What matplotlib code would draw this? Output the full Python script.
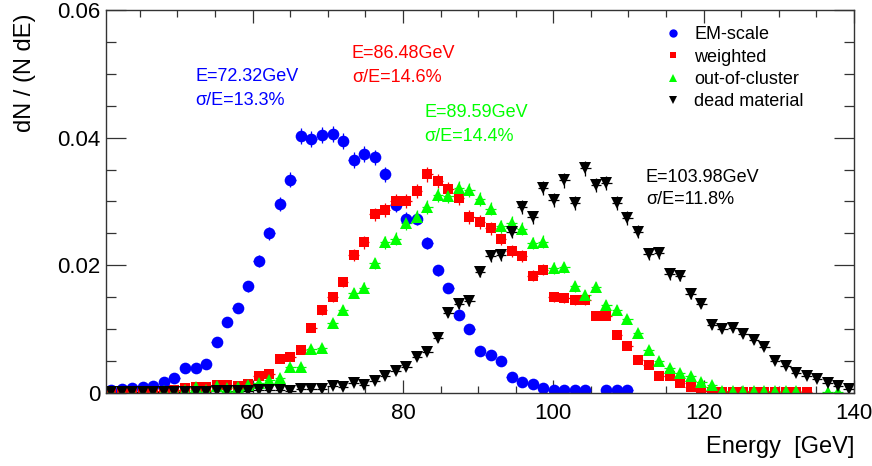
import numpy as np
import matplotlib
matplotlib.use("Agg")
import matplotlib.pyplot as plt
from matplotlib.lines import Line2D
from matplotlib.ticker import MultipleLocator, FixedLocator, FixedFormatter

plt.rcParams['font.family'] = ['Liberation Sans', 'DejaVu Sans']

nan = np.nan

# histogram binning: 71 bins between 40.5 and 140 GeV
bin_edges = np.linspace(40.5, 140.0, 72)
energy = 0.5 * (bin_edges[:-1] + bin_edges[1:])
half_width = 0.5 * (bin_edges[1] - bin_edges[0])

em_scale = [0.0005, 0.0007, 0.0008, 0.0010, 0.0011, 0.0017, 0.0023, 0.0039, 0.0039, 0.0046,
            0.0080, 0.0112, 0.0133, 0.0167, 0.0207, 0.0250, 0.0296, 0.0334, 0.0403, 0.0398,
            0.0404, 0.0406, 0.0395, 0.0365, 0.0374, 0.0369, 0.0343, 0.0295, 0.0273, 0.0273,
            0.0235, 0.0192, 0.0164, 0.0122, 0.0100, 0.0066, 0.0059, 0.0050, 0.0025, 0.0017,
            0.0014, 0.0008, 0.0005, 0.0005, 0.0004, 0.0004, nan, 0.0004, 0.0004, 0.0004,
            nan, nan, nan, nan, nan, nan, nan, nan, nan, nan,
            nan, nan, nan, nan, nan, nan, nan, nan, nan, nan, nan]

weighted = [0.0001, 0.0002, 0.0002, 0.0002, 0.0003, 0.0003, 0.0004, 0.0008, 0.0010, 0.0010,
            0.0013, 0.0013, 0.0011, 0.0014, 0.0026, 0.0030, 0.0053, 0.0056, 0.0067, 0.0102,
            0.0130, 0.0151, 0.0174, 0.0216, 0.0236, 0.0280, 0.0287, 0.0301, 0.0301, 0.0316,
            0.0343, 0.0332, 0.0320, 0.0305, 0.0276, 0.0268, 0.0258, 0.0241, 0.0223, 0.0214,
            0.0184, 0.0193, 0.0150, 0.0149, 0.0145, 0.0145, 0.0121, 0.0121, 0.0091, 0.0073,
            0.0052, 0.0044, 0.0027, 0.0026, 0.0015, 0.0010, 0.0003, 0.0002, 0.0002, 0.0002,
            0.0002, 0.0002, 0.0002, 0.0002, 0.0002, 0.0002, 0.0002, nan, nan, nan, nan]

out_of_cluster = [0.0001, 0.0001, 0.0001, 0.0002, 0.0002, 0.0003, 0.0003, 0.0004, 0.0010, 0.0005,
                  0.0011, 0.0008, 0.0009, 0.0012, 0.0015, 0.0020, 0.0023, 0.0040, 0.0041, 0.0069,
                  0.0071, 0.0109, 0.0130, 0.0156, 0.0165, 0.0203, 0.0236, 0.0242, 0.0266, 0.0276,
                  0.0291, 0.0310, 0.0308, 0.0321, 0.0318, 0.0304, 0.0289, 0.0261, 0.0267, 0.0257,
                  0.0235, 0.0237, 0.0196, 0.0197, 0.0167, 0.0154, 0.0166, 0.0138, 0.0130, 0.0116,
                  0.0094, 0.0068, 0.0050, 0.0039, 0.0031, 0.0026, 0.0017, 0.0013, 0.0003, 0.0003,
                  0.0003, 0.0003, 0.0003, 0.0003, 0.0003, 0.0003, nan, nan, 0.0002, 0.0002, nan]

dead_material = [0.0002, 0.0002, 0.0002, 0.0002, 0.0002, 0.0002, 0.0002, 0.0002, 0.0002, 0.0002,
                 0.0003, 0.0003, 0.0003, 0.0003, 0.0004, 0.0004, 0.0004, 0.0003, 0.0007, 0.0007,
                 0.0007, 0.0011, 0.0010, 0.0015, 0.0013, 0.0019, 0.0026, 0.0034, 0.0040, 0.0057,
                 0.0064, 0.0086, 0.0126, 0.0139, 0.0144, 0.0190, 0.0214, 0.0216, 0.0253, 0.0291,
                 0.0275, 0.0321, 0.0303, 0.0333, 0.0298, 0.0352, 0.0326, 0.0329, 0.0297, 0.0274,
                 0.0253, 0.0217, 0.0219, 0.0186, 0.0184, 0.0155, 0.0140, 0.0107, 0.0101, 0.0102,
                 0.0092, 0.0083, 0.0072, 0.0050, 0.0042, 0.0031, 0.0026, 0.0022, 0.0016, 0.0011,
                 0.0006]

# normalisation N*dE, used for the poisson error bars
n_norm = 25000.0

series = [
    ("EM-scale", em_scale, "#0000ff", "o", 8.4, 6.0),
    ("weighted", weighted, "#ff0000", "s", 7.6, 4.8),
    ("out-of-cluster", out_of_cluster, "#00ff00", "^", 8.6, 5.6),
    ("dead material", dead_material, "#000000", "v", 8.6, 5.6),
]

fits = [
    ("E=72.32GeV", "\u03c3/E=13.3%", "#0000ff", 52.4, 0.0496, 0.0458),
    ("E=86.48GeV", "\u03c3/E=14.6%", "#ff0000", 73.2, 0.0532, 0.0495),
    ("E=89.59GeV", "\u03c3/E=14.4%", "#00ff00", 82.9, 0.0439, 0.0402),
    ("E=103.98GeV", "\u03c3/E=11.8%", "#000000", 112.3, 0.0338, 0.0303),
]

fig = plt.figure(figsize=(8.72, 4.66), dpi=100)
ax = fig.add_axes([106 / 872, 1 - 393 / 466, 748 / 872, 383 / 466])

handles = []
for label, vals, col, mk, ms, ms_leg in series:
    y = np.array(vals)
    err = np.sqrt(np.nan_to_num(y) / n_norm)
    ax.errorbar(energy, y, yerr=err, xerr=half_width, fmt=mk, color=col, ms=ms,
                mew=0, elinewidth=0.9, capsize=0)
    handles.append(Line2D([], [], ls="none", marker=mk, color=col, ms=ms_leg, mew=0))

for line1, line2, col, xt, y1, y2 in fits:
    ax.text(xt, y1, line1, color=col, fontsize=13, va="center", ha="left")
    ax.text(xt, y2, line2, color=col, fontsize=13, va="center", ha="left")

ax.legend(handles, [s[0] for s in series], loc="upper left", bbox_to_anchor=(0.724, 1.0),
          frameon=False, fontsize=13, handlelength=1.0, handletextpad=0.7,
          labelspacing=0.3, borderpad=0.4)

ax.set_xlim(40.5, 140)
ax.set_ylim(0, 0.06)

ax.xaxis.set_major_locator(MultipleLocator(20))
ax.xaxis.set_minor_locator(MultipleLocator(5))
ax.yaxis.set_major_locator(FixedLocator([0, 0.02, 0.04, 0.06]))
ax.yaxis.set_major_formatter(FixedFormatter(["0", "0.02", "0.04", "0.06"]))
ax.yaxis.set_minor_locator(MultipleLocator(0.005))

ax.tick_params(axis="both", which="both", direction="in", top=True, right=True,
               labelsize=16, width=0.9, color="#333333")
ax.tick_params(axis="x", which="major", length=9.5, pad=7)
ax.tick_params(axis="x", which="minor", length=5)
ax.tick_params(axis="y", which="major", length=14.5, pad=4)
ax.tick_params(axis="y", which="minor", length=7.5)

for sp in ax.spines.values():
    sp.set_linewidth(1.0)
    sp.set_color("#333333")

ax.set_xlabel("Energy  [GeV]", fontsize=17, loc="right")
ax.xaxis.set_label_coords(1.0, -0.112)
ax.set_ylabel("dN / (N dE)", fontsize=17, loc="top")
ax.yaxis.set_label_coords(-0.094, 0.99)

fig.savefig("out.png", dpi=100)
